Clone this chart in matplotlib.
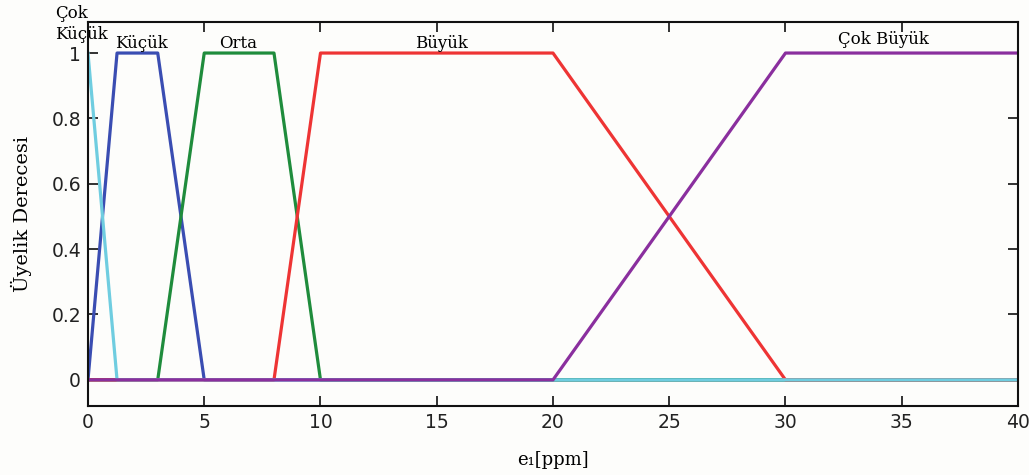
import matplotlib.pyplot as plt

# membership functions (breakpoints)
x_cok_kucuk = [0, 1.25, 40]
y_cok_kucuk = [1, 0, 0]
x_kucuk = [0, 1.25, 3, 5, 40]
y_kucuk = [0, 1, 1, 0, 0]
x_orta = [0, 3, 5, 8, 10, 40]
y_orta = [0, 0, 1, 1, 0, 0]
x_buyuk = [0, 8, 10, 20, 30, 40]
y_buyuk = [0, 0, 1, 1, 0, 0]
x_cok_buyuk = [0, 20, 30, 40]
y_cok_buyuk = [0, 0, 1, 1]

labels = ['Çok\nKüçük', 'Küçük', 'Orta', 'Büyük', 'Çok Büyük']
label_x = [-1.42, 2.28, 6.45, 15.2, 34.2]
label_y = [1.09, 1.03, 1.03, 1.03, 1.04]

serif = ['DejaVu Serif']

fig = plt.figure(figsize=(10.29, 4.75), dpi=100)
fig.patch.set_facecolor('#fdfdfb')
ax = fig.add_axes([0.0855, 0.1453, 0.9038, 0.8084])
ax.set_facecolor('#fdfdfb')

lw = 2.3
ax.plot(x_kucuk, y_kucuk, color='#3a4db2', lw=lw)
ax.plot(x_orta, y_orta, color='#1f8c3c', lw=lw)
ax.plot(x_buyuk, y_buyuk, color='#ee3434', lw=lw)
ax.plot(x_cok_kucuk, y_cok_kucuk, color='#6fcde0', lw=lw)
ax.plot(x_cok_buyuk, y_cok_buyuk, color='#8a2f9e', lw=lw)

for i, lab in enumerate(labels):
    ax.text(label_x[i], label_y[i], lab, ha='left' if i == 0 else 'center',
            va='center', fontsize=12, family=serif, linespacing=1.3,
            clip_on=False)

ax.set_xlim(0, 40)
ax.set_ylim(-0.08, 1.095)
ax.set_xticks(range(0, 41, 5))
ax.set_yticks([0, 0.2, 0.4, 0.6, 0.8, 1])
ax.set_yticklabels(['0', '0.2', '0.4', '0.6', '0.8', '1'])
ax.tick_params(direction='in', top=True, right=True, length=7, width=1.3,
               labelsize=13.5, colors='#222222', pad=5)
for s in ax.spines.values():
    s.set_linewidth(1.5)
    s.set_color('#111111')

ax.set_xlabel('e₁[ppm]', family=serif, fontsize=13, labelpad=14)
ax.set_ylabel('Üyelik Derecesi', family=serif, fontsize=14, labelpad=14)

fig.savefig('out.png', dpi=100, facecolor=fig.get_facecolor())
